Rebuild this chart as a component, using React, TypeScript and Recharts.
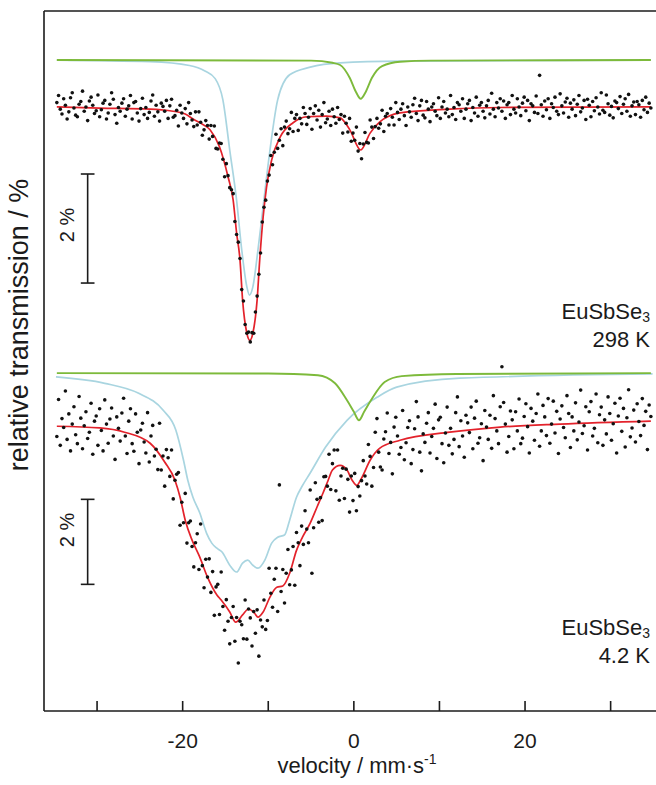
import React from "react";
import { ComposedChart, Line, Scatter, XAxis, YAxis, ReferenceLine } from "recharts";

// channel velocities (mm/s)
const velocityStart = -34.7;
const channelStep = 0.2;

// measured points, relative transmission in 0.01 %
const spectrum298 = [
    8, 21, -4, -13, 15, 3, -22, -9, 17, 26,
    -2, -15, -18, 5, 10, 29, -8, 0, -25, 11,
    18, 3, -12, -7, 22, -18, -5, 7, 12, -22,
    -11, 5, 26, 14, -14, -30, -1, -8, 7, 15,
    -17, -4, 2, 21, -22, 8, 10, -11, -26, -3,
    16, -14, -1, -21, -10, 11, 22, -17, 3, -9,
    -26, 7, 1, -8, 12, -21, 2, 14, -19, -16,
    -6, -35, 3, -11, -21, -3, -31, 8, -12, -24,
    -36, -9, -33, -9, -28, -52, -42, -25, -34, -59,
    -34, -54, -35, -76, -77, -66, -67, -96, -128, -104,
    -126, -148, -152, -159, -210, -234, -248, -278, -335, -356,
    -399, -415, -413, -431, -414, -415, -376, -347, -307, -268,
    -211, -184, -171, -136, -125, -89, -106, -83, -50, -76,
    -61, -40, -71, -37, -26, -49, -40, -10, -45, -21,
    -14, -43, -21, -31, -1, -12, -32, -19, -3, -41,
    -12, 2, -24, -6, -37, -14, 8, -29, -22, -8,
    -34, -4, -18, -30, -1, -23, -14, -48, -17, -30,
    -46, -21, -63, -48, -61, -37, -81, -67, -95, -68,
    -47, -65, -66, -24, -37, -58, -36, -21, -39, -31,
    -6, -45, -17, -12, -33, -3, -19, -33, 8, -10,
    -23, -4, 6, -16, -34, 0, -9, -19, 4, 16,
    -12, -25, 2, 12, -15, -20, 10, -4, -27, 0,
    6, -8, -16, 17, -21, 0, 10, -11, -4, -18,
    21, -14, -1, -23, 8, 4, -8, 15, -21, -4,
    6, 12, -25, -1, -11, 18, -17, 3, 8, -8,
    -20, 2, 12, -13, 25, -4, -18, 8, -2, 15,
    -8, 11, -21, 4, 8, -14, 21, -4, -11, 15,
    0, -16, 7, 18, -7, 12, -25, 6, 2, -10,
    20, -12, 58, 4, -17, 11, -5, 15, -21, 6,
    -1, 18, -8, -14, 24, 2, -11, 9, 16, -19,
    7, -4, 13, -16, 5, 21, -9, -2, 12, -23,
    14, 3, -18, 10, -7, 17, 0, -13, 26, -6,
    -10, 22, 6, -15, 1, -20, 11, 8, -3, 19,
    -12, 5, 15, -8, 23, -17, 2, 9, -14, 10,
    4, -19, 12, -5, 18, -10, 7, -2,
];

const spectrum4K = [
    -36, 51, -57, 6, -15, 71, -43, 17, -70, -7,
    34, -32, -53, 58, 7, -65, -11, 22, -41, -26,
    42, -78, 0, 12, -57, 29, -22, -70, 50, -7,
    -52, 5, 31, -35, -90, 10, -17, -47, 19, 54,
    -35, -76, 0, 29, -53, -71, 17, -26, -100, -21,
    -5, -49, -75, 20, -96, -35, -10, -82, -66, -114,
    -5, -115, -82, -153, -67, -86, -130, -68, -183, -139,
    -125, -121, -245, -191, -239, -170, -287, -239, -235, -295,
    -343, -286, -265, -349, -242, -340, -392, -325, -367, -324,
    -403, -354, -457, -390, -384, -455, -355, -436, -492, -420,
    -471, -524, -462, -436, -518, -462, -569, -471, -479, -512,
    -421, -513, -442, -463, -529, -448, -499, -444, -553, -468,
    -484, -421, -490, -469, -346, -405, -438, -372, -346, -448,
    -150, -401, -349, -428, -358, -302, -385, -350, -295, -386,
    -262, -286, -340, -247, -290, -211, -254, -286, -162, -358,
    -251, -145, -184, -238, -180, -234, -131, -130, -153, -78,
    -161, -100, -68, -164, -68, -186, -129, -111, -182, -113,
    -137, -214, -129, -187, -123, -211, -154, -176, -140, -93,
    -129, -148, -55, -83, -153, -109, -26, 6, -73, -108,
    -115, -42, -25, 19, -76, -50, -124, -14, 9, -35,
    -78, -62, 25, -91, -51, -15, 1, -100, -67, -18,
    46, 10, -73, -117, -30, -50, -5, 20, -75, -36,
    -17, 40, -88, 3, 9, -53, -98, -28, 33, -57,
    -17, -77, -43, 20, 57, -60, 1, -35, -85, 14,
    -4, -27, 33, -65, 7, 47, -52, -39, -6, -93,
    25, -14, -43, 14, -64, 60, 6, -23, -53, 34,
    128, 44, -7, -73, -36, 24, 3, -65, 22, -23,
    52, -53, -40, 11, 41, -13, -75, 30, 0, -45,
    18, 64, -59, -23, 37, 10, -34, 53, -52, -7,
    47, -28, 23, -76, 5, 36, -15, -39, 60, 18,
    -62, 10, -23, 43, -44, -2, 73, -29, -11, 34,
    -68, 22, 46, -35, -17, 64, -51, 15, 33, -57,
    3, -30, 57, 18, -45, -6, 42, -75, 12, 54,
    -24, 30, -61, 8, 74, -37, -16, 26, -49, 41,
    -1, -34, 53, -10, 23, -67, 38, 11,
];

// fitted envelopes and subspectra (%)
const fit298V = [-34.7, -29.7, -23.8, -21.5, -19.7, -18.6, -18.0, -16.8, -15.7, -14.7, -14.1, -13.7, -13.3, -13.0, -12.5, -12.15, -11.8, -11.3, -11.0, -10.6, -10.2, -9.6, -8.6, -7.1, -5.5, -3.2, -1.6, -0.47, 0.8, 1.9, 3.0, 5.4, 11.2, 17.0, 34.7];
const fit298T = [0, -0.02, -0.04, -0.07, -0.13, -0.24, -0.29, -0.42, -0.73, -1.28, -1.71, -2.31, -2.81, -3.54, -4.15, -4.28, -4.15, -3.54, -2.81, -2.02, -1.47, -0.97, -0.55, -0.29, -0.18, -0.17, -0.2, -0.42, -0.79, -0.48, -0.28, -0.11, -0.04, -0.01, 0];

const eu2_298V = [-34.7, -23.8, -19.2, -17.4, -16.2, -15.3, -14.5, -13.7, -13.1, -12.5, -12.2, -11.8, -11.2, -10.6, -9.8, -8.9, -7.5, -5.1, -1.6, 5.4, 34.7];
const eu2_298T = [0, -0.03, -0.1, -0.2, -0.34, -0.73, -1.65, -2.57, -3.48, -4.16, -4.31, -4.16, -3.48, -2.69, -1.65, -0.73, -0.27, -0.13, -0.05, -0.02, 0];

const eu3_298V = [-34.7, -5.0, -2.5, -1.6, -0.47, 0.23, 0.8, 1.4, 2.1, 3.3, 5.4, 9.0, 34.7];
const eu3_298T = [0, -0.01, -0.05, -0.09, -0.33, -0.58, -0.71, -0.58, -0.33, -0.11, -0.03, -0.01, 0];

const fit4V = [-34.7, -29.7, -26.8, -23.8, -22.1, -20.9, -20.3, -19.7, -18.9, -18.0, -17.1, -16.0, -15.5, -14.5, -13.8, -13.0, -12.3, -11.6, -11.2, -10.6, -9.8, -9.0, -8.3, -7.5, -6.7, -6.0, -5.1, -4.3, -3.6, -3.0, -2.5, -1.6, -0.8, -0.2, 0.35, 0.9, 1.9, 3.0, 5.4, 11.2, 17.1, 24.1, 34.7];
const fit4T = [-0.12, -0.16, -0.26, -0.52, -0.96, -1.39, -1.79, -2.33, -2.8, -3.2, -3.67, -4.09, -4.21, -4.49, -4.73, -4.56, -4.42, -4.52, -4.61, -4.49, -4.14, -3.91, -3.88, -3.58, -3.04, -2.73, -2.4, -2.02, -1.69, -1.39, -1.15, -1.04, -1.15, -1.39, -1.51, -1.34, -0.92, -0.64, -0.45, -0.26, -0.14, -0.07, 0];

const eu2_4V = [-34.8, -29.1, -25.2, -22.3, -20.8, -19.9, -19.4, -18.8, -18.0, -17.2, -16.6, -16.0, -15.4, -14.5, -13.7, -13.0, -12.4, -11.8, -11.2, -10.4, -9.6, -8.9, -8.1, -7.5, -6.7, -6.1, -5.1, -3.3, -0.8, 2.7, 5.0, 12.4, 34.9];
const eu2_4T = [-0.09, -0.24, -0.47, -0.87, -1.34, -2.05, -2.52, -2.92, -3.29, -3.77, -4.0, -4.12, -4.21, -4.52, -4.68, -4.47, -4.4, -4.52, -4.59, -4.4, -4.0, -3.86, -3.81, -3.46, -2.92, -2.68, -2.35, -1.74, -1.11, -0.57, -0.33, -0.12, -0.02];

const eu3_4V = [-34.7, -10.0, -4.2, -2.2, -0.8, 0.0, 0.6, 1.2, 2.0, 3.6, 5.6, 12.0, 34.7];
const eu3_4T = [0, -0.01, -0.05, -0.24, -0.64, -0.91, -1.11, -0.91, -0.64, -0.21, -0.07, -0.02, 0];

const velocityTicks = [-30, -20, -10, 0, 10, 20, 30];

// subspectra are drawn shifted above the data
const shift298 = 0.86;
const shift4 = 1.13;

const xDomain = [-36.2, 35.3];
const yDomain298 = [-11.08, 1.76];
const yDomain4 = [-6.82, 9.65];

const font = '"Liberation Sans", Arial, sans-serif';
const ink = "#1b1b1b";

const toPoints = (counts: number[]) =>
    counts.map((c, i) => ({ v: +(velocityStart + i * channelStep).toFixed(2), t: c / 100 }));
const toCurve = (vs: number[], ts: number[], shift = 0) =>
    vs.map((v, i) => ({ v, t: +(ts[i] + shift).toFixed(3) }));

const points298 = toPoints(spectrum298);
const points4 = toPoints(spectrum4K);

const Dot = (p: any) => <circle cx={p.cx} cy={p.cy} r={1.8} fill="#111" />;

function curve(id: string, data: any[], color: string, width: number) {
    return (
        <Line
            key={id + color + data.length}
            yAxisId={id}
            data={data}
            dataKey="t"
            type="monotone"
            stroke={color}
            strokeWidth={width}
            dot={false}
            activeDot={false}
            isAnimationActive={false}
        />
    );
}

function Rotated({ x, y, size, children }: { x: number; y: number; size: number; children: React.ReactNode }) {
    return (
        <div
            style={{
                position: "absolute",
                left: x,
                top: y,
                transform: "translate(-50%, -50%) rotate(-90deg)",
                whiteSpace: "nowrap",
                fontSize: size,
                lineHeight: size + "px",
            }}>
            {children}
        </div>
    );
}

function Sample({ top, temp }: { top: number; temp: string }) {
    return (
        <div
            style={{
                position: "absolute",
                right: 6,
                top,
                textAlign: "right",
                fontSize: 22,
                lineHeight: "26px",
            }}>
            <div>
                EuSbSe<span style={{ fontSize: 14, position: "relative", top: 3 }}>3</span>
            </div>
            <div>{temp}</div>
        </div>
    );
}

function App() {
    return (
        <div
            style={{
                position: "absolute",
                left: 0,
                top: 0,
                width: 656,
                height: 785,
                fontFamily: font,
                color: ink,
                background: "#fff",
            }}>
            <ComposedChart
                width={656}
                height={785}
                margin={{ top: 11, right: 0, bottom: 34, left: 44 }}>
                <XAxis
                    dataKey="v"
                    type="number"
                    domain={xDomain}
                    allowDataOverflow
                    ticks={velocityTicks}
                    interval={0}
                    tickFormatter={(v: number) => (v % 20 === 0 ? String(v) : "")}
                    tickSize={-10}
                    tickMargin={32}
                    height={40}
                    axisLine={{ stroke: ink, strokeWidth: 1.6 }}
                    tickLine={{ stroke: ink, strokeWidth: 1.6 }}
                    tick={{ fill: ink, fontSize: 21, fontFamily: font }}
                />
                <YAxis yAxisId="k298" type="number" domain={yDomain298} allowDataOverflow hide />
                <YAxis yAxisId="k4" type="number" domain={yDomain4} allowDataOverflow hide />

                {/* frame: left and top edges */}
                <ReferenceLine yAxisId="k298" x={xDomain[0]} stroke={ink} strokeWidth={1.6} ifOverflow="visible" />
                <ReferenceLine yAxisId="k298" y={yDomain298[1]} stroke={ink} strokeWidth={1.6} ifOverflow="visible" />

                {curve("k298", toCurve(eu2_298V, eu2_298T, shift298), "#a9d5e0", 1.7)}
                {curve("k298", toCurve(eu3_298V, eu3_298T, shift298), "#7dba3b", 1.9)}
                {curve("k298", toCurve(fit298V, fit298T), "#e3222b", 1.7)}
                {curve("k4", toCurve(eu2_4V, eu2_4T, shift4), "#a9d5e0", 1.7)}
                {curve("k4", toCurve(eu3_4V, eu3_4T, shift4), "#7dba3b", 1.9)}
                {curve("k4", toCurve(fit4V, fit4T), "#e3222b", 1.7)}

                <Scatter yAxisId="k298" data={points298} dataKey="t" shape={Dot} isAnimationActive={false} />
                <Scatter yAxisId="k4" data={points4} dataKey="t" shape={Dot} isAnimationActive={false} />

                {/* 2 % scale bars */}
                <ReferenceLine yAxisId="k298" segment={[{ x: -31.1, y: -1.23 }, { x: -31.1, y: -3.23 }]} stroke={ink} strokeWidth={1.6} />
                <ReferenceLine yAxisId="k298" segment={[{ x: -31.9, y: -1.23 }, { x: -30.3, y: -1.23 }]} stroke={ink} strokeWidth={1.6} />
                <ReferenceLine yAxisId="k298" segment={[{ x: -31.9, y: -3.23 }, { x: -30.3, y: -3.23 }]} stroke={ink} strokeWidth={1.6} />
                <ReferenceLine yAxisId="k4" segment={[{ x: -31.1, y: -1.84 }, { x: -31.1, y: -3.84 }]} stroke={ink} strokeWidth={1.6} />
                <ReferenceLine yAxisId="k4" segment={[{ x: -31.9, y: -1.84 }, { x: -30.3, y: -1.84 }]} stroke={ink} strokeWidth={1.6} />
                <ReferenceLine yAxisId="k4" segment={[{ x: -31.9, y: -3.84 }, { x: -30.3, y: -3.84 }]} stroke={ink} strokeWidth={1.6} />
            </ComposedChart>

            <Rotated x={19} y={325} size={27}>relative transmission / %</Rotated>
            <Rotated x={67} y={225} size={20}>2 %</Rotated>
            <Rotated x={67} y={530} size={20}>2 %</Rotated>

            <Sample top={299} temp="298 K" />
            <Sample top={615} temp="4.2 K" />

            <div
                style={{
                    position: "absolute",
                    left: 357,
                    top: 753,
                    transform: "translateX(-50%)",
                    whiteSpace: "nowrap",
                    fontSize: 22,
                    lineHeight: "26px",
                }}>
                velocity / mm·s<span style={{ fontSize: 14, position: "relative", top: -9 }}>-1</span>
            </div>
        </div>
    );
}

export default App;
